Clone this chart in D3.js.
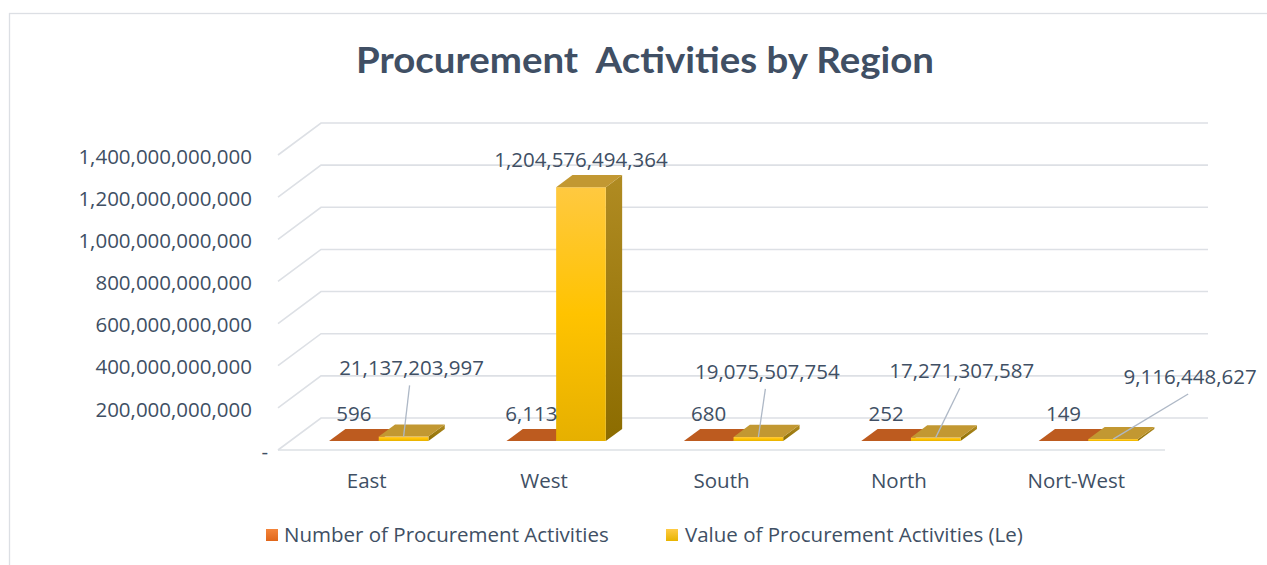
<!DOCTYPE html>
<html>
<head>
<meta charset="utf-8">
<script src="https://cdn.jsdelivr.net/npm/d3@7"></script>
<style>
  body { margin: 0; background: #fff; }
  svg { display: block; }
  text { fill: #404F64; font-family: "Open Sans", sans-serif; }
</style>
</head>
<body>
<div id="chart"></div>
<script>
// data
var regions = ["East", "West", "South", "North", "Nort-West"];
var seriesNames = ["Number of Procurement Activities", "Value of Procurement Activities (Le)"];
var counts = [596, 6113, 680, 252, 149];
var values = [21137203997, 1204576494364, 19075507754, 17271307587, 9116448627];
var yTicks = [0, 200000000000, 400000000000, 600000000000, 800000000000, 1000000000000, 1200000000000, 1400000000000];

// manual nudges of the value labels (they were dragged off the bars in the original)
var valueLabelShift = [[8, -41], [0, 0], [9, -38], [26, -39], [77, -35]];

var width = 1267, height = 565;
var DX = 43, DY = -32;      // depth of the 3d floor
var z0 = 0.28, z1 = 0.66;   // depth of the bars
var fmt = d3.format(",.0f");

var svg = d3.select("#chart").append("svg")
  .attr("width", width)
  .attr("height", height);

var defs = svg.append("defs");
function vgrad(id, stops) {
  var g = defs.append("linearGradient").attr("id", id)
    .attr("x1", 0).attr("y1", 0).attr("x2", 0).attr("y2", 1);
  stops.forEach(function(s) {
    g.append("stop").attr("offset", s[0]).attr("stop-color", s[1]);
  });
}
vgrad("yFront", [[0, "#FFC940"], [0.5, "#FFC300"], [1, "#E6B000"]]);
vgrad("ySide", [[0, "#B08B22"], [1, "#8C6C00"]]);
vgrad("oLeg", [[0, "#F4843A"], [1, "#E0661A"]]);
vgrad("yLeg", [[0, "#FFCB45"], [1, "#E8B400"]]);

// chart frame
svg.append("rect")
  .attr("x", 9.5).attr("y", 13.5)
  .attr("width", 1400).attr("height", 700)
  .attr("fill", "none")
  .attr("stroke", "#DCDFE4")
  .attr("stroke-width", 1.3);

svg.append("text")
  .attr("x", 645).attr("y", 73)
  .attr("text-anchor", "middle")
  .attr("textLength", 578)
  .attr("lengthAdjust", "spacingAndGlyphs")
  .style("white-space", "pre")
  .style("font-family", "Lato, sans-serif")
  .style("font-weight", 700)
  .style("font-size", "37px")
  .text("Procurement  Activities by Region");

var x = d3.scaleBand().domain(regions).range([278, 1165]);
var x1 = d3.scaleBand().domain(seriesNames).range([0, x.bandwidth() * 0.56]);
var y = d3.scaleLinear().domain([0, 1400000000000]).range([450, 155]);

function pt(px, v, z) {
  return [px + DX * z, y(v) + DY * z];
}

// gridlines: left wall + back wall
var grid = svg.append("g");
yTicks.forEach(function(t) {
  var yf = y(t);
  grid.append("polyline")
    .attr("points", [[278, yf], [278 + DX, yf + DY], [1165 + DX, yf + DY]].join(" "))
    .attr("fill", "none")
    .attr("stroke", "#DDE0E5")
    .attr("stroke-width", 1.6);
});
grid.append("line")
  .attr("x1", 278).attr("x2", 1165)
  .attr("y1", y(0)).attr("y2", y(0))
  .attr("stroke", "#DDE0E5")
  .attr("stroke-width", 1.6);

// value axis
var yAxis = svg.append("g")
  .attr("transform", "translate(252,0)")
  .call(d3.axisLeft(y).tickValues(yTicks).tickSize(0).tickPadding(0)
    .tickFormat(function(d) { return d === 0 ? "-" : fmt(d); }));
yAxis.select(".domain").remove();
yAxis.selectAll("text")
  .style("font-family", "Open Sans, sans-serif")
  .style("font-size", "20.5px")
  .attr("fill", "#404F64")
  .attr("dy", "0.4em")
  .attr("x", function(d) { return d === 0 ? 16 : 0; });

// category axis
var xAxis = svg.append("g")
  .attr("transform", "translate(0," + y(0) + ")")
  .call(d3.axisBottom(x).tickSize(0).tickPadding(23));
xAxis.select(".domain").remove();
xAxis.selectAll("text")
  .style("font-family", "Open Sans, sans-serif")
  .style("font-size", "20.5px")
  .attr("fill", "#404F64");

// bars
var barData = [];
regions.forEach(function(r, i) {
  barData.push({ region: r, s: 0, v: counts[i], i: i });
  barData.push({ region: r, s: 1, v: values[i], i: i });
});

function poly(pts) { return pts.map(function(p) { return p.join(","); }).join(" "); }

var bars = svg.append("g").selectAll("g").data(barData).enter().append("g");
bars.each(function(d) {
  var g = d3.select(this);
  var xl = x(d.region) + (x.bandwidth() - x1.range()[1]) / 2 + x1(seriesNames[d.s]);
  var w = x1.bandwidth();
  var A = pt(xl, 0, z0), B = pt(xl + w, 0, z0), C = pt(xl + w, d.v, z0), D = pt(xl, d.v, z0);
  var B1 = pt(xl + w, 0, z1), C1 = pt(xl + w, d.v, z1), D1 = pt(xl, d.v, z1);
  var front = d.s === 0 ? "#D8651E" : "url(#yFront)";
  var side = d.s === 0 ? "#A84E18" : "url(#ySide)";
  var top = d.s === 0 ? "#BD5B1F" : "#C29832";
  g.append("polygon").attr("points", poly([B, B1, C1, C])).attr("fill", side);
  g.append("polygon").attr("points", poly([A, B, C, D])).attr("fill", front);
  g.append("polygon").attr("points", poly([D, C, C1, D1])).attr("fill", top);
  d.cx = xl + w / 2 + DX * z0;
  d.topFront = C[1];
  d.topBack = C1[1];
});

// data labels
var labels = svg.append("g");
barData.forEach(function(d) {
  var lx = d.cx, ly = d.topBack - 8;
  if (d.s === 1) {
    var sh = valueLabelShift[d.i];
    lx += sh[0];
    ly += sh[1];
    if (sh[0] !== 0 || sh[1] !== 0) {
      labels.append("line")
        .attr("x1", lx - 2).attr("y1", ly + 10)
        .attr("x2", d.cx).attr("y2", d.topFront)
        .attr("stroke", "#AEB8C6")
        .attr("stroke-width", 1.3);
    }
  }
  labels.append("text")
    .attr("x", lx).attr("y", ly)
    .attr("text-anchor", "middle")
    .style("font-size", "20.5px")
    .text(fmt(d.v));
});

// legend
var legX = [266, 666];
var legend = svg.append("g").selectAll("g").data(seriesNames).enter().append("g")
  .attr("transform", function(d, i) { return "translate(" + legX[i] + ",529)"; });
legend.append("rect")
  .attr("width", 12).attr("height", 12)
  .attr("fill", function(d, i) { return i === 0 ? "url(#oLeg)" : "url(#yLeg)"; });
legend.append("text")
  .attr("x", function(d, i) { return i === 0 ? 18 : 19; })
  .attr("y", 13)
  .style("font-size", "20.5px")
  .text(function(d) { return d; });
</script>
</body>
</html>
